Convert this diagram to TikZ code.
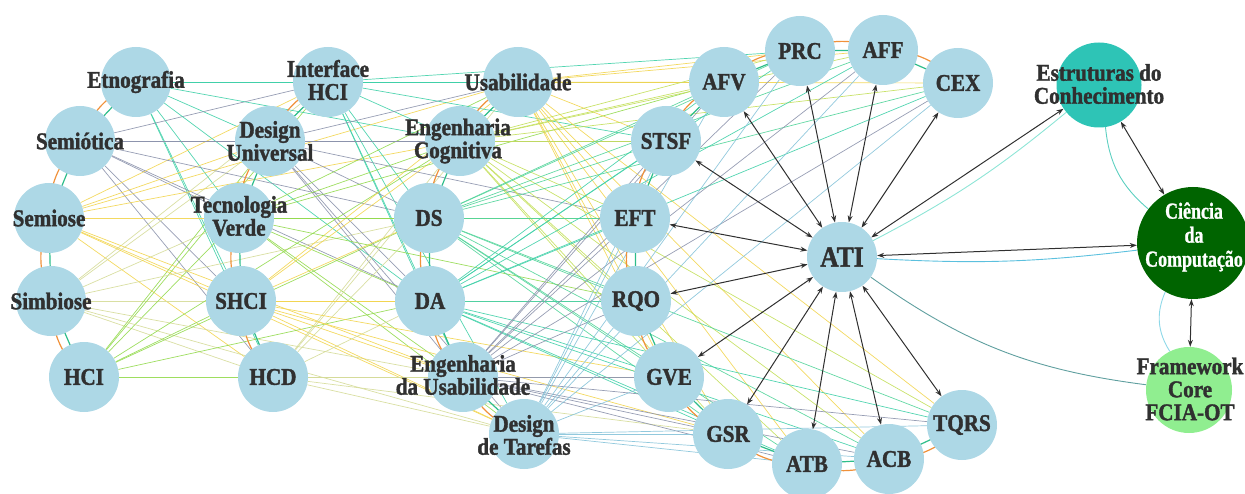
\documentclass[tikz,border=0pt]{standalone}
\usepackage{fontspec}
\newfontfamily\lblfont{Liberation Serif}[FakeStretch=0.88,FakeBold=1.5]
\newfontfamily\cmpfont{Liberation Serif}[FakeStretch=0.78,FakeBold=1]
\usetikzlibrary{arrows.meta,calc}
\pgfdeclarelayer{bg}
\pgfsetlayers{bg,main}

% node fills and text
\definecolor{nodeblue}{HTML}{ADD8E6}
\definecolor{estrut}{HTML}{2EC4B6}
\definecolor{cienc}{HTML}{006400}
\definecolor{frame}{HTML}{90EE90}
\definecolor{txt}{HTML}{303030}
% link colours (one per source concept)
\definecolor{eteal}{HTML}{40D0A8}
\definecolor{egray}{HTML}{8C93AC}
\definecolor{eyell}{HTML}{F2D550}
\definecolor{ekhak}{HTML}{D5DB98}
\definecolor{egreen}{HTML}{93DA4E}
\definecolor{eygreen}{HTML}{C3DF5A}
\definecolor{etgreen}{HTML}{52D49A}
\definecolor{esteel}{HTML}{86C3D9}
% chain links
\definecolor{ringor}{HTML}{F0913A}
\definecolor{ringtl}{HTML}{2DBD8A}
% thin links of the core
\definecolor{cteal}{HTML}{8EE5D6}
\definecolor{cteal2}{HTML}{5CCFC0}
\definecolor{cblue}{HTML}{5BC0DE}
\definecolor{cslate}{HTML}{5F9F9F}
\definecolor{cpale}{HTML}{8ED8E8}

\begin{document}
\begin{tikzpicture}[x=1pt,y=-1pt,
  circ/.style={circle,fill=nodeblue,minimum size=70pt,inner sep=0pt},
  lbl/.style={text=txt,align=center,inner sep=0pt,
    font=\lblfont\bfseries\fontsize{24}{23}\selectfont},
  edge/.style={line width=0.7pt,opacity=0.9},
  ringo/.style={draw=ringor,line width=1.2pt,bend right=22},
  ringt/.style={draw=ringtl,line width=1.2pt},
  dbl/.style={draw=txt,line width=1pt,
    {Stealth[length=7pt,width=5pt]}-{Stealth[length=7pt,width=5pt]}},
  thin/.style={line width=0.9pt}
]
\useasboundingbox (0,0) rectangle (1245,494);

% ---------- concepts ----------
\node[circ] (etn) at (136,82) {};
\node[circ] (sem) at (80,141) {};
\node[circ] (smi) at (49,218) {};
\node[circ] (sim) at (51,301) {};
\node[circ] (hci) at (84,377) {};

\node[circ] (ihc) at (328,82) {};
\node[circ] (dun) at (270,141) {};
\node[circ] (tve) at (239,218) {};
\node[circ] (shc) at (241,301) {};
\node[circ] (hcd) at (273,377) {};

\node[circ] (usa) at (518,82) {};
\node[circ] (eco) at (460,141) {};
\node[circ] (ds)  at (429,218) {};
\node[circ] (da)  at (430,301) {};
\node[circ] (eus) at (463,377) {};
\node[circ] (dta) at (524,434) {};

\node[circ] (afv) at (724,82) {};
\node[circ] (prc) at (800,51) {};
\node[circ] (aff) at (883,50) {};
\node[circ] (cex) at (958,83) {};
\node[circ] (sts) at (666,141) {};
\node[circ] (eft) at (635,218) {};
\node[circ] (rqo) at (636,301) {};
\node[circ] (gve) at (669,377) {};
\node[circ] (gsr) at (728,434) {};
\node[circ] (atb) at (807,464) {};
\node[circ] (acb) at (889,459) {};
\node[circ] (tqr) at (962,425) {};

\node[circ] (ati) at (842,257) {};

\node[circle,fill=estrut,minimum size=85pt,inner sep=0pt] (est) at (1099,85) {};
\node[circle,fill=cienc,minimum size=112pt,inner sep=0pt] (cie) at (1193,243) {};
\node[circle,fill=frame,minimum size=86pt,inner sep=0pt] (fra) at (1189,390) {};

% ---------- labels ----------
\node[lbl] (etn-t) at (etn) {Etnografia};
\node[lbl] (sem-t) at (sem) {Semiótica};
\node[lbl] (smi-t) at (smi) {Semiose};
\node[lbl] (sim-t) at (sim) {Simbiose};
\node[lbl] (hci-t) at (hci) {HCI};
\node[lbl] (ihc-t) at (328,80) {Interface\\HCI};
\node[lbl] (dun-t) at (270,141) {Design\\Universal};
\node[lbl] (tve-t) at (239,216) {Tecnologia\\Verde};
\node[lbl] (shc-t) at (shc) {SHCI};
\node[lbl] (hcd-t) at (hcd) {HCD};
\node[lbl] (usa-t) at (usa) {Usabilidade};
\node[lbl] (eco-t) at (458,141) {Engenharia\\Cognitiva};
\node[lbl] (ds-t)  at (ds) {DS};
\node[lbl] (da-t)  at (da) {DA};
\node[lbl] (eus-t) at (463,375) {Engenharia\\da Usabilidade};
\node[lbl] (dta-t) at (524,435) {Design\\de Tarefas};
\node[lbl] (afv-t) at (afv) {AFV};
\node[lbl] (prc-t) at (prc) {PRC};
\node[lbl] (aff-t) at (aff) {AFF};
\node[lbl] (cex-t) at (cex) {CEX};
\node[lbl] (sts-t) at (sts) {STSF};
\node[lbl] (eft-t) at (eft) {EFT};
\node[lbl] (rqo-t) at (rqo) {RQO};
\node[lbl] (gve-t) at (gve) {GVE};
\node[lbl] (gsr-t) at (gsr) {GSR};
\node[lbl] (atb-t) at (atb) {ATB};
\node[lbl] (acb-t) at (acb) {ACB};
\node[lbl] (tqr-t) at (tqr) {TQRS};
\node[lbl,font=\lblfont\bfseries\fontsize{29}{29}\selectfont] (ati-t) at (ati) {ATI};
\node[lbl] (est-t) at (1099,84) {Estruturas do\\Conhecimento};
\node[lbl,text=white,font=\cmpfont\bfseries\fontsize{23}{24}\selectfont] (cie-t) at (1194,237) {Ciência\\da\\Computação};
\node[lbl] (fra-t) at (1190,389) {Framework\\Core\\FCIA-OT};

\begin{pgfonlayer}{bg}
% ---------- links between concept groups ----------
\foreach \s/\c in {etn/eteal,sem/egray,smi/eyell,sim/ekhak,hci/egreen}
  \foreach \t in {ihc,dun,tve,shc,hcd}
    \draw[edge,draw=\c] (\s) -- (\t);

\foreach \s/\c/\tl in {etn/eteal/{usa,eco,da},sem/egray/{eco,ds,da},
    smi/eyell/{usa,eco,dta,eus},sim/ekhak/{ds,eus,dta},hci/egreen/{ds,da,eco}}
  \foreach \t in \tl
    \draw[edge,draw=\c] (\s) -- (\t);

\foreach \s/\c in {ihc/eteal,dun/egray,tve/egreen,shc/eyell,hcd/ekhak}
  \foreach \t in {usa,eco,ds,da,eus,dta}
    \draw[edge,draw=\c] (\s) -- (\t);

\foreach \s/\c/\tl in {ihc/eteal/{afv,sts,prc},dun/egray/{sts,eft},
    tve/egreen/{eft,rqo,afv},shc/eyell/{gve,gsr,rqo},hcd/ekhak/{gsr,gve}}
  \foreach \t in \tl
    \draw[edge,draw=\c] (\s) -- (\t);

\foreach \s/\c in {usa/eyell,eco/eygreen,ds/etgreen,da/eteal,eus/egray,dta/esteel}
  \foreach \t in {afv,prc,aff,cex,sts,eft,rqo,gve,gsr,atb,acb,tqr}
    \draw[edge,draw=\c] (\s) -- (\t);

% ---------- chains inside each group ----------
\foreach \a/\b in {etn/sem,sem/smi,smi/sim,sim/hci,
    ihc/dun,dun/tve,tve/shc,shc/hcd,
    usa/eco,eco/ds,ds/da,da/eus,eus/dta,
    cex/aff,aff/prc,prc/afv,afv/sts,sts/eft,eft/rqo,rqo/gve,gve/gsr,gsr/atb,atb/acb,acb/tqr}
{
  \draw[ringt] (\a.center) -- (\b.center);
  \draw[ringo] (\a.center) to (\b.center);
}

% ---------- thin links of the core ----------
\draw[thin,draw=cteal] (ati) to[bend right=6] (est);
\draw[thin,draw=cteal2] (est) to[bend right=22] (cie);
\draw[thin,draw=cblue] (ati) to[bend right=5] (cie);
\draw[thin,draw=cslate] (ati) to[bend right=14] (fra);
\draw[thin,draw=cpale] (cie) to[bend right=28] (fra);

% ---------- two-way relations ----------
\foreach \t in {afv,prc,aff,cex,sts,eft,rqo,gve,gsr,atb,acb,tqr,est,cie}
  \draw[dbl] (ati) -- (\t);
\draw[dbl] (est) -- (cie);
\draw[dbl] (cie) -- (fra);
\end{pgfonlayer}
\end{tikzpicture}
\end{document}
